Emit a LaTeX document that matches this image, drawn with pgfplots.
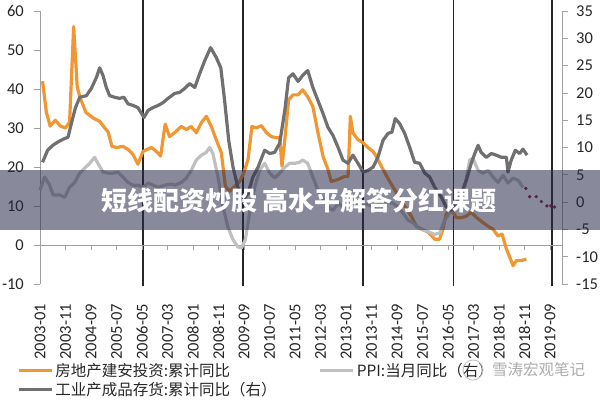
\documentclass[border=0pt]{standalone}
\usepackage{fontspec}
\setmainfont{Carlito}
\newfontfamily\cjk{Noto Sans CJK SC}
\usepackage{pgfplots}
\pgfplotsset{compat=1.18}
\definecolor{ora}{RGB}{240,150,50}
\definecolor{dgray}{RGB}{112,112,112}
\definecolor{lgray}{RGB}{192,192,192}
\definecolor{axg}{RGB}{160,160,160}
\definecolor{dred}{RGB}{140,35,55}
\definecolor{bann}{RGB}{40,40,75}
\begin{document}
\begin{tikzpicture}
\path[use as bounding box] (0,0) rectangle (600pt,400pt);
\begin{axis}[
  scale only axis, width=522pt, height=273pt, at={(40pt,116pt)}, anchor=south west,
  xmin=0, xmax=204.7, clip=false,
  tick align=outside, major tick length=6pt,
  tick style={axg, line width=0.8pt},
  axis line style={axg, line width=1pt},
  ticklabel style={font=\fontsize{16.5}{18}\selectfont, text=black!85},
  /pgf/number format/assume math mode=true,
  axis y line*=left, axis x line*=bottom,
  x axis line style={draw=none}, xtick style={draw=none},
  ymin=-10, ymax=60, ytick={-10,0,...,60},
  xtick={0,10,...,200},
  xticklabels={2003-01,2003-11,2004-09,2005-07,2006-05,2007-03,2008-01,2008-11,2009-09,2010-07,2011-05,2012-03,2013-01,2013-11,2014-09,2015-07,2016-05,2017-03,2018-01,2018-11,2019-09},
  xticklabel style={yshift=-14pt, rotate=90, anchor=east, inner sep=0pt},
  yticklabel style={inner sep=0pt, xshift=-10pt, anchor=east},
]
\pgfplotsinvokeforeach{40.4,79.6,126.7,162,200.8}{\draw[black!85, line width=1.2pt] (axis cs:#1,-10.6) -- (axis cs:#1,62.8);}
\draw[axg, line width=1pt] (axis cs:0,0) -- (axis cs:204.7,0);
\pgfplotsinvokeforeach{10,20,...,200}{\draw[axg, line width=0.8pt] (axis cs:#1,0) -- ++(0pt,-5pt);}
\addplot[ora, line width=3.2pt, line join=round] coordinates {
(1,42) (2.5,34) (4,30.5) (6,32) (8,30.5) (10,30) (11.6,31.5) (13.2,56) (14.6,40.5) (15.6,38) (18,34) (21,32.5) (23.4,31.7) (25.4,30) (26.7,29) (28.2,25.3) (30,25) (32.5,25.3) (34.5,24.5) (36.5,23.2) (38.4,20.7) (40.4,24) (42,24.5) (43.7,25) (45.6,24) (47.3,22.8) (49.1,31) (50.8,27.8) (52.8,28.8) (55.4,30.4) (57.4,29.6) (59.3,30.4) (61.3,28.8) (63.3,31.4) (65.2,33) (67.2,30.4) (69.1,27) (71.1,23.7) (72.7,15) (74.4,13.8) (76.3,15) (78.3,16.3) (80,18.6) (81.6,22) (83.1,30.4) (84.8,30) (86.8,30.6) (88.8,28.8) (90.7,27.8) (92.7,27.5) (94,27.5) (94.9,20.2) (96,27) (97.5,37.2) (99.2,38.5) (101.2,38.5) (103,39.8) (105,38) (107,35.5) (109,28.8) (111,22.7) (112.9,19.4) (114.2,16.3) (116.9,16.8) (119.5,17.6) (120.8,17.6) (121.7,33) (122.7,28.8) (124.7,27) (126.7,26.2) (128.6,25) (130.6,24) (131.9,22.7) (134.5,19.4) (137.1,16.3) (139.7,13.5) (143,10) (145.6,7.4) (147.6,4.8) (149.5,4.1) (152.2,3.3) (154.8,1.5) (156.7,1.5) (158,4.1) (159.3,8) (161.3,9) (163.3,7) (165.2,7) (167.2,7.4) (169.1,8.4) (171.1,7.1) (173,6.1) (175.7,4.8) (177.6,4.1) (179.6,2.3) (181.2,2.8) (182.9,-1) (184.2,-3.1) (185.5,-5.3) (186.8,-4) (188.7,-4) (190.7,-3.6)
};
\end{axis}
\begin{axis}[
  scale only axis, width=522pt, height=273pt, at={(40pt,116pt)}, anchor=south west,
  xmin=0, xmax=204.7, clip=false,
  tick align=outside, major tick length=6pt,
  tick style={axg, line width=0.8pt},
  axis line style={axg, line width=1pt},
  ticklabel style={font=\fontsize{16.5}{18}\selectfont, text=black!85},
  /pgf/number format/assume math mode=true,
  axis y line*=right, axis x line=none,
  ymin=-15, ymax=35, ytick={-15,-10,...,35},
  yticklabel style={inner sep=0pt, xshift=8pt, anchor=west},
  legend columns=2,
  legend cell align=left,
  legend style={at={(-0.05,-0.275)}, anchor=north west, draw=none, fill=none,
    font=\cjk\fontsize{15.5}{17}\selectfont, text=black!85,
    /tikz/every even column/.append style={column sep=40pt}},
  legend image code/.code={\draw[#1] (0pt,0pt) -- (33pt,0pt);},
]
\addlegendimage{ora, line width=3.2pt}
\addlegendentry{房地产建安投资:累计同比}
\addplot[lgray, line width=3.2pt, line join=round] coordinates {
(0,2.2) (1.8,4.6) (3.8,3.1) (5.1,1.3) (7.7,1.3) (9.7,0.9) (11.6,2.7) (13.6,3.6) (15.6,5.3) (17.5,6.2) (19.5,7.1) (21.4,8.2) (22.7,7.1) (24.7,5.5) (26.7,5.3) (28.6,5.3) (30.6,5.5) (32.5,4.6) (34.5,3.6) (36.5,3.1) (38.4,3.1) (40.4,2.7) (42.4,3.5) (44.3,3.1) (46.3,2.7) (48.9,3.1) (51.5,3.3) (53,3.1) (55.4,3.6) (57.4,4.4) (59.3,5.8) (61.3,7.7) (63.3,8.6) (65.2,9.1) (66.5,10) (67.8,8.9) (69.8,4.6) (71.8,-0.9) (73.7,-4.6) (75.7,-6.9) (77.6,-8.2) (79,-8.4) (80.5,-6.9) (82.2,-2) (84.2,2.7) (86.1,5.8) (88.1,7.1) (90.1,5.3) (92,4.4) (94,5.3) (96,6.4) (97.9,7.1) (99.9,7.1) (101.8,7.3) (103,7.7) (105,7.1) (107,4.6) (109,2.2) (111,0.4) (112.9,-0.9) (114.9,-1.5) (116.9,-0.2) (118.8,-0.9) (120.8,0) (122.7,-0.5) (124.7,-0.9) (126.7,-0.5) (128.6,-0.5) (130.6,-0.9) (132.5,-0.5) (134.5,0) (136.5,0) (138.4,-0.2) (140.4,-0.9) (142.4,-2) (144.3,-3.3) (146.3,-3.8) (148.2,-4.6) (150.2,-5.1) (152.2,-5.4) (154.5,-5.9) (156.7,-5.7) (158.7,-3.3) (160.7,-2) (162.6,-0.9) (164.6,0.9) (166.5,2.7) (168.5,7.7) (169.8,8) (171.8,5.8) (173.7,5.3) (175.7,5.8) (177.6,4.6) (179.6,3.6) (181.6,4.9) (183.5,3.5) (185.5,4.4) (187.5,4) (189.4,2.7)
};
\addlegendentry{PPI:当月同比（右）}
\addplot[dgray, line width=3.2pt, line join=round] coordinates {
(1,7.3) (3,9.5) (5,10.4) (7,11) (9,11.5) (11,11.9) (12.3,14.4) (13.9,17.3) (15.6,19.2) (18.2,19.5) (20.1,20.8) (22.1,22.8) (23.4,24.6) (24.7,23.2) (26,21) (27.3,19.5) (29.3,19.2) (31.2,19) (32.9,19.2) (34.5,18) (36.5,17.7) (38.4,17.3) (40.8,15.5) (42.4,16.8) (44.3,17.3) (46.3,17.7) (48.2,18.2) (50.2,19) (52.8,19.9) (54.8,20.1) (56.7,20.8) (58.7,21.7) (60.7,21) (62.6,23.5) (64.6,25.9) (66.9,28.3) (69.1,26.5) (70.9,24.6) (72.4,18.6) (74,11.3) (75.7,6.4) (77.6,2.7) (79.6,0.4) (81.6,1.6) (83.5,4.6) (85.5,6.4) (88.1,9.5) (90.1,8.9) (92,9.1) (94,10.8) (96,16.8) (97.5,22.8) (99.2,23.5) (101.2,22.1) (103,23.2) (105,24.1) (107,21) (109,18.6) (111,16.2) (112.9,13.7) (114.9,12.2) (116.9,10) (118.8,7.7) (120.8,7.1) (122.7,8.6) (124.7,7.1) (126.7,5.5) (128.6,5.8) (130.6,6.4) (132.5,8.2) (134.5,11.3) (136.5,12.6) (138,12.8) (139.3,15.3) (141,14.4) (143,12.6) (145,10) (146.9,7.3) (148.9,7.1) (150.9,5.3) (152.8,4.6) (154.8,2.7) (157.4,0.9) (159.3,-0.9) (161.3,-1.5) (163.3,-0.2) (165.2,1.6) (167.2,4) (169.1,7.1) (170.5,8.9) (171.8,10.4) (173,9.1) (175,8.2) (177,8.9) (178.9,8.6) (180.9,8.2) (182.9,8.2) (183.5,5.5) (184.8,7.7) (186.4,9.5) (188.1,8.9) (189.4,9.7) (191,8.6)
};
\addlegendentry{工业产成品存货:累计同比（右）}
\addplot[only marks, mark=*, dred, mark size=1.5pt, forget plot] coordinates {
(190.5,2.5) (192,1) (194.6,1) (196.6,0.1) (198.8,-0.7) (200.3,-0.7) (201.8,-0.9)
};
\end{axis}
\fill[bann, opacity=0.55] (0pt,170.5pt) rectangle (600pt,230pt);
\node[text=white, font=\cjk\bfseries\fontsize{26}{28}\selectfont] at (299pt,199pt) {短线配资炒股 高水平解答分红课题};
\node[anchor=west, text=gray!65, font=\cjk\fontsize{15.5}{17}\selectfont, inner sep=0pt] at (492pt,30pt) {雪涛宏观笔记};
\draw[gray!45, line width=1pt] (473pt,30pt) circle (10pt);
\end{tikzpicture}
\end{document}
